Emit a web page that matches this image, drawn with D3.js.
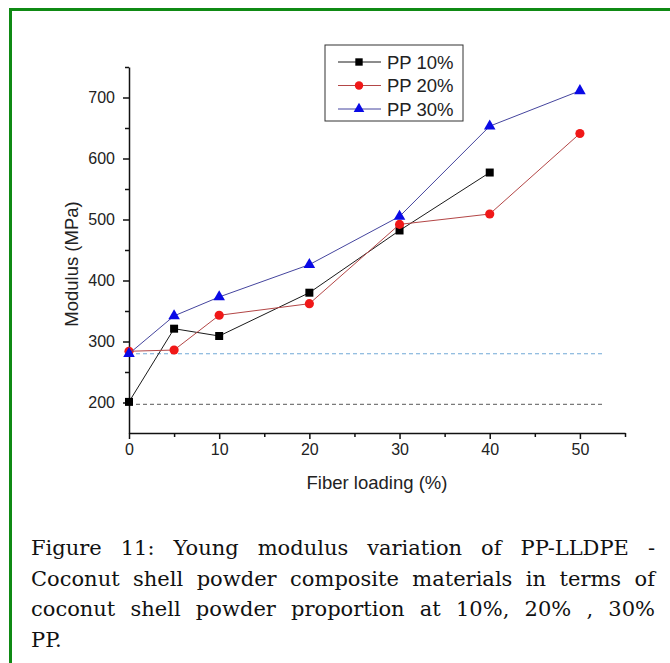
<!DOCTYPE html>
<html>
<head>
<meta charset="utf-8">
<script src="https://cdn.jsdelivr.net/npm/d3@7"></script>
<style>
  body { margin: 0; background: #fff; }
  #page { position: relative; width: 670px; height: 663px; overflow: hidden; background: #fff; }
  #frame { position: absolute; left: 9px; top: 8px; width: 700px; height: 700px;
           border-top: 3px solid #0f8a14; border-left: 3px solid #0f8a14; }
  #chart { position: absolute; left: 0; top: 0; }
  #caption { position: absolute; left: 31px; top: 533px; width: 624px;
             font-family: "DejaVu Serif", serif; font-size: 21px; line-height: 30.5px; color: #111; }
  #caption div { text-align: justify; text-align-last: justify; white-space: nowrap; }
  #caption div.last { text-align-last: left; }
  .axis path, .axis line { stroke: #111; stroke-width: 1.5; }
  .axis text { font-family: "Liberation Sans", Arial, sans-serif; font-size: 16px; fill: #222; }
</style>
</head>
<body>
<div id="page">
  <div id="frame"></div>
  <svg id="chart" width="670" height="663"></svg>
  <div id="caption"></div>
</div>
<script>
// fiber loading (%) on x
var fiber = [0, 5, 10, 20, 30, 40, 50];
// modulus (MPa)
var pp10 = [201, 321, 309, 380, 482, 577];
var pp20 = [284, 286, 343, 362, 492, 509, 641];
var pp30 = [280, 342, 373, 426, 505, 653, 711];
// reference dashed levels
var refLevels = [197, 280];
var refEnd = 52.5;

var xMajor = [0, 10, 20, 30, 40, 50];
var xMinor = [5, 15, 25, 35, 45, 55];
var yMajor = [200, 300, 400, 500, 600, 700];
var yMinor = [250, 350, 450, 550, 650, 750];

var captionLines = [
  "Figure 11: Young modulus variation of PP-LLDPE -",
  "Coconut shell powder composite materials in terms of",
  "coconut shell powder proportion at 10%, 20% , 30%",
  "PP."
];

var margin = {top: 67, left: 129},
    width = 496,
    height = 366;

var svg = d3.select("#chart")
  .append("g")
    .attr("transform", "translate(" + margin.left + "," + margin.top + ")");

var xScale = d3.scaleLinear().domain([0, 55]).range([0, width]);
var yScale = d3.scaleLinear().domain([150, 750]).range([height, 0]);

// dashed reference lines
var refColors = ["#7a7a7a", "#72a9d6"];
svg.selectAll(".ref")
    .data(refLevels)
  .enter().append("line")
    .attr("class", "ref")
    .attr("x1", xScale(0))
    .attr("x2", xScale(refEnd))
    .attr("y1", function(d) { return yScale(d); })
    .attr("y2", function(d) { return yScale(d); })
    .attr("stroke", function(d, i) { return refColors[i]; })
    .attr("stroke-width", 1.1)
    .attr("stroke-dasharray", "4,3");

// axes
svg.append("g")
    .attr("class", "axis")
    .attr("transform", "translate(0," + height + ")")
    .call(d3.axisBottom(xScale).tickValues(xMajor).tickSize(6).tickPadding(5).tickSizeOuter(0));
svg.append("g")
    .attr("class", "axis")
    .attr("transform", "translate(0," + height + ")")
    .call(d3.axisBottom(xScale).tickValues(xMinor).tickSize(4).tickFormat("").tickSizeOuter(0))
    .select(".domain").remove();

svg.append("g")
    .attr("class", "axis")
    .call(d3.axisLeft(yScale).tickValues(yMajor).tickSize(6).tickPadding(8).tickSizeOuter(0));
svg.append("g")
    .attr("class", "axis")
    .call(d3.axisLeft(yScale).tickValues(yMinor).tickSize(4).tickFormat("").tickSizeOuter(0))
    .select(".domain").remove();

// axis titles
svg.append("text")
    .attr("x", xScale(27.5))
    .attr("y", height + 56)
    .attr("text-anchor", "middle")
    .style("font-family", "'Liberation Sans', Arial, sans-serif")
    .style("font-size", "18.5px")
    .style("fill", "#222")
    .text("Fiber loading (%)");

svg.append("text")
    .attr("transform", "translate(" + (-51) + "," + (264 - margin.top) + ") rotate(-90)")
    .attr("text-anchor", "middle")
    .style("font-family", "'Liberation Sans', Arial, sans-serif")
    .style("font-size", "18.5px")
    .style("fill", "#222")
    .text("Modulus (MPa)");

// series
var series = [
  {name: "PP 10%", values: pp10, line: "#1a1a1a", fill: "#000000", shape: d3.symbolSquare, size: 64},
  {name: "PP 20%", values: pp20, line: "#b34646", fill: "#f01818", shape: d3.symbolCircle, size: 66},
  {name: "PP 30%", values: pp30, line: "#45459e", fill: "#0a0ae6", shape: d3.symbolTriangle, size: 58}
];

var line = d3.line()
    .x(function(d) { return xScale(d[0]); })
    .y(function(d) { return yScale(d[1]); });

series.forEach(function(s) {
  var pts = s.values.map(function(v, i) { return [fiber[i], v]; });
  svg.append("path")
      .datum(pts)
      .attr("fill", "none")
      .attr("stroke", s.line)
      .attr("stroke-width", 1)
      .attr("d", line);
  svg.selectAll(null)
      .data(pts)
    .enter().append("path")
      .attr("transform", function(d) { return "translate(" + xScale(d[0]) + "," + yScale(d[1]) + ")"; })
      .attr("d", d3.symbol().type(s.shape).size(s.size))
      .attr("fill", s.fill);
});

// legend
var lg = d3.select("#chart").append("g").attr("transform", "translate(325,45)");
lg.append("rect")
    .attr("width", 138).attr("height", 76)
    .attr("fill", "#fff").attr("stroke", "#333").attr("stroke-width", 1);

var item = lg.selectAll(".legend")
    .data(series)
  .enter().append("g")
    .attr("class", "legend")
    .attr("transform", function(d, i) { return "translate(0," + (17 + i * 23.5) + ")"; });

item.append("line")
    .attr("x1", 13).attr("x2", 56)
    .attr("stroke", function(d) { return d.line; })
    .attr("stroke-width", 1);
item.append("path")
    .attr("transform", "translate(34,0)")
    .attr("d", function(d) { return d3.symbol().type(d.shape).size(d.size * 0.85)(); })
    .attr("fill", function(d) { return d.fill; });
item.append("text")
    .attr("x", 62)
    .attr("y", 6.5)
    .style("font-family", "'Liberation Sans', Arial, sans-serif")
    .style("font-size", "18.5px")
    .style("fill", "#222")
    .text(function(d) { return d.name; });

// caption
d3.select("#caption").selectAll("div")
    .data(captionLines)
  .enter().append("div")
    .attr("class", function(d, i) { return i === captionLines.length - 1 ? "last" : null; })
    .text(function(d) { return d; });
</script>
</body>
</html>
